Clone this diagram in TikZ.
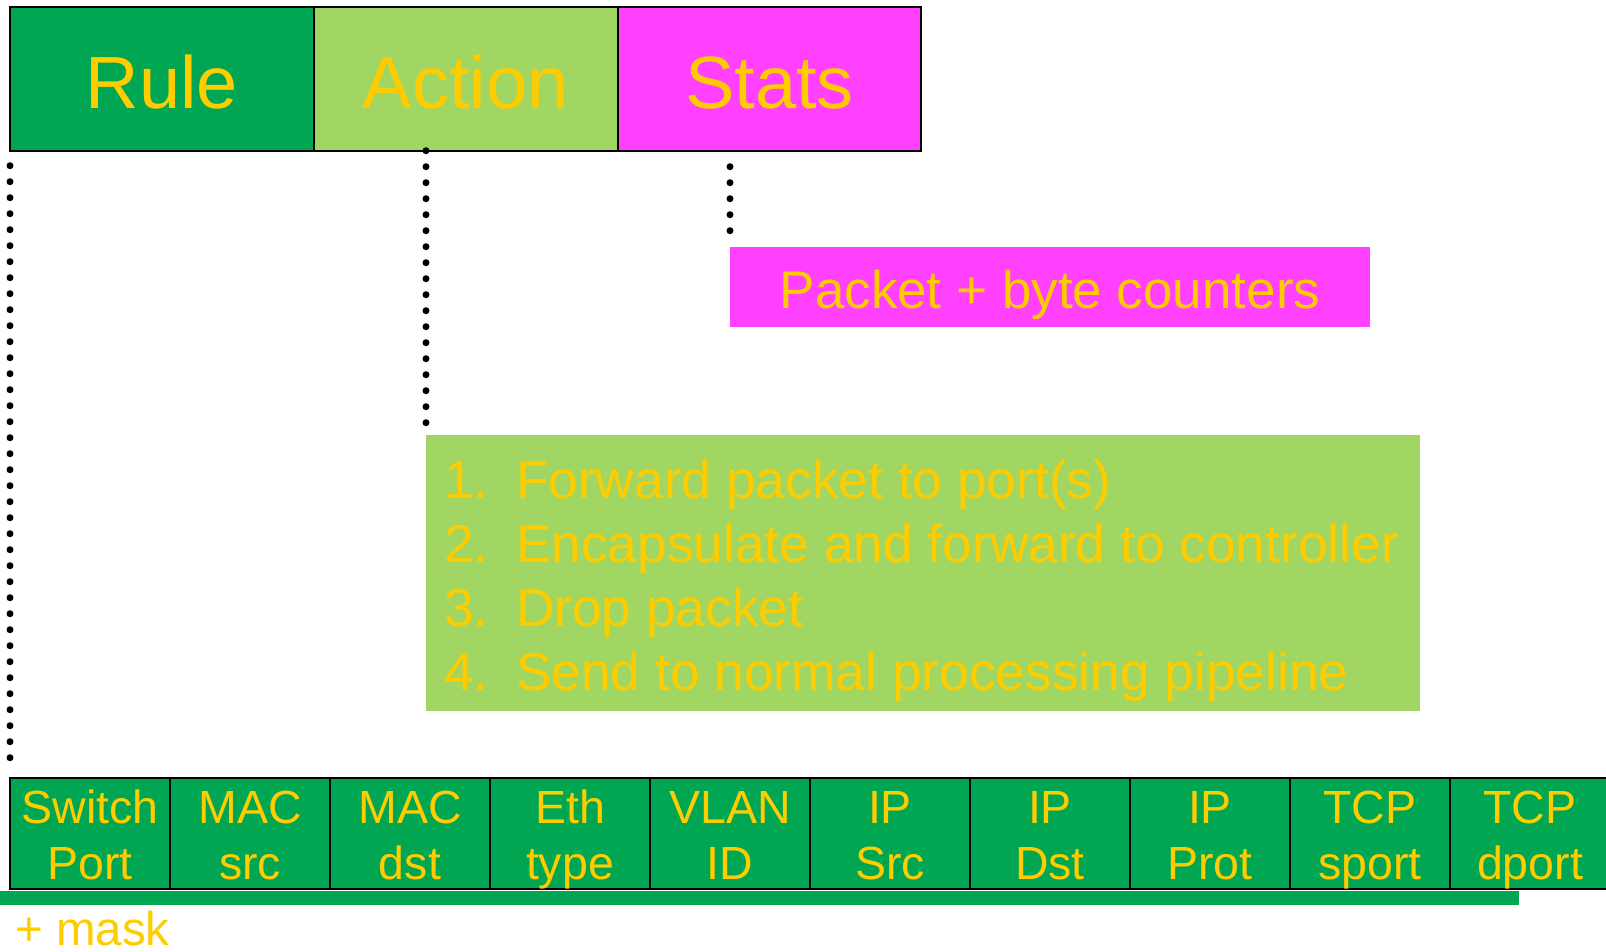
\documentclass[tikz,border=0pt]{standalone}
\usepackage{fontspec}
\setmainfont{Liberation Sans}
\usetikzlibrary{calc}

\definecolor{cellgreen}{RGB}{0,166,81}
\definecolor{actgreen}{RGB}{162,214,98}
\definecolor{statpink}{RGB}{255,64,255}
\definecolor{labelgold}{RGB}{255,204,0}

\tikzset{
  headbox/.style={draw=black, line width=2pt, minimum width=303.8pt,
    minimum height=144pt, inner sep=0pt, outer sep=0pt, anchor=north west,
    text=labelgold, font=\fontsize{74}{80}\selectfont,
    text height=60pt, text depth=0pt},
  fieldcell/.style={draw=black, line width=2pt, fill=cellgreen,
    minimum width=160pt, minimum height=111.6pt, inner sep=0pt,
    outer sep=0pt, anchor=north west},
  fieldtext/.style={text=labelgold, font=\fontsize{46.5}{56}\selectfont,
    anchor=base, inner sep=0pt, outer sep=0pt},
  listtext/.style={text=labelgold, font=\fontsize{53.3}{64}\selectfont,
    anchor=base west, inner sep=0pt, outer sep=0pt},
  panel/.style={inner sep=0pt, outer sep=0pt, anchor=north west},
  dotline/.style={line width=7pt, line cap=round, dash pattern=on 0pt off 16pt}
}

\begin{document}
\begin{tikzpicture}[x=1pt, y=-1pt]
\useasboundingbox (0,0) rectangle (1606,951);
\clip (0,0) rectangle (1606,951);

% flow entry header: rule / action / stats
\node[headbox, fill=cellgreen] (rule)   at (10,6.7) {Rule};
\node[headbox, fill=actgreen]  (action) at (rule.north east) {Action};
\node[headbox, fill=statpink]  (stats)  at (action.north east) {Stats};

% statistics panel
\node[panel, fill=statpink, minimum width=640pt, minimum height=80pt,
      text=labelgold, font=\fontsize{53}{64}\selectfont,
      text height=42pt, text depth=0pt] (counters) at (730,247)
      {Packet + byte counters};

% action panel with the numbered list
\node[panel, fill=actgreen, minimum width=994pt, minimum height=276pt]
      (actions) at (426,435) {};
\foreach \n/\t [count=\k from 0] in {
    1./Forward packet to port(s),
    2./Encapsulate and forward to controller,
    3./Drop packet,
    4./Send to normal processing pipeline} {
  \node[listtext] (num\n) at (444, 498.7+64*\k) {\n};
  \node[listtext] (item\k) at (516, 498.7+64*\k) {\t};
}

% header field row
\foreach \a/\b [count=\i] in {Switch/Port, MAC/src, MAC/dst, Eth/type,
    VLAN/ID, IP/Src, IP/Dst, IP/Prot, TCP/sport, TCP/dport} {
  \node[fieldcell] (f\i) at ({10+160*(\i-1)}, 777.7) {};
  \node[fieldtext] (f\i a) at ([yshift=-45.6pt]f\i.north) {\a};
  \node[fieldtext] (f\i b) at ([yshift=-101.6pt]f\i.north) {\b};
}

% mask bar and its label
\node[panel, fill=cellgreen, minimum width=1519pt, minimum height=14pt]
      (maskbar) at (0,891) {};
\node[text=labelgold, font=\fontsize{47.5}{56}\selectfont, anchor=base west,
      inner sep=0pt] (mask) at (15,945) {+ mask};

% dotted leaders
\coordinate (adot) at (action.south -| actions.north west);
\coordinate (sdot) at (stats.south -| counters.north west);
\draw[dotline] ([yshift=-15pt]rule.south west) -- ([yshift=18pt]f1.north west);
\draw[dotline] (adot) -- ([yshift=12pt]actions.north west);
\draw[dotline] ([yshift=-16pt]sdot) -- ([yshift=16pt]counters.north west);
\end{tikzpicture}
\end{document}
